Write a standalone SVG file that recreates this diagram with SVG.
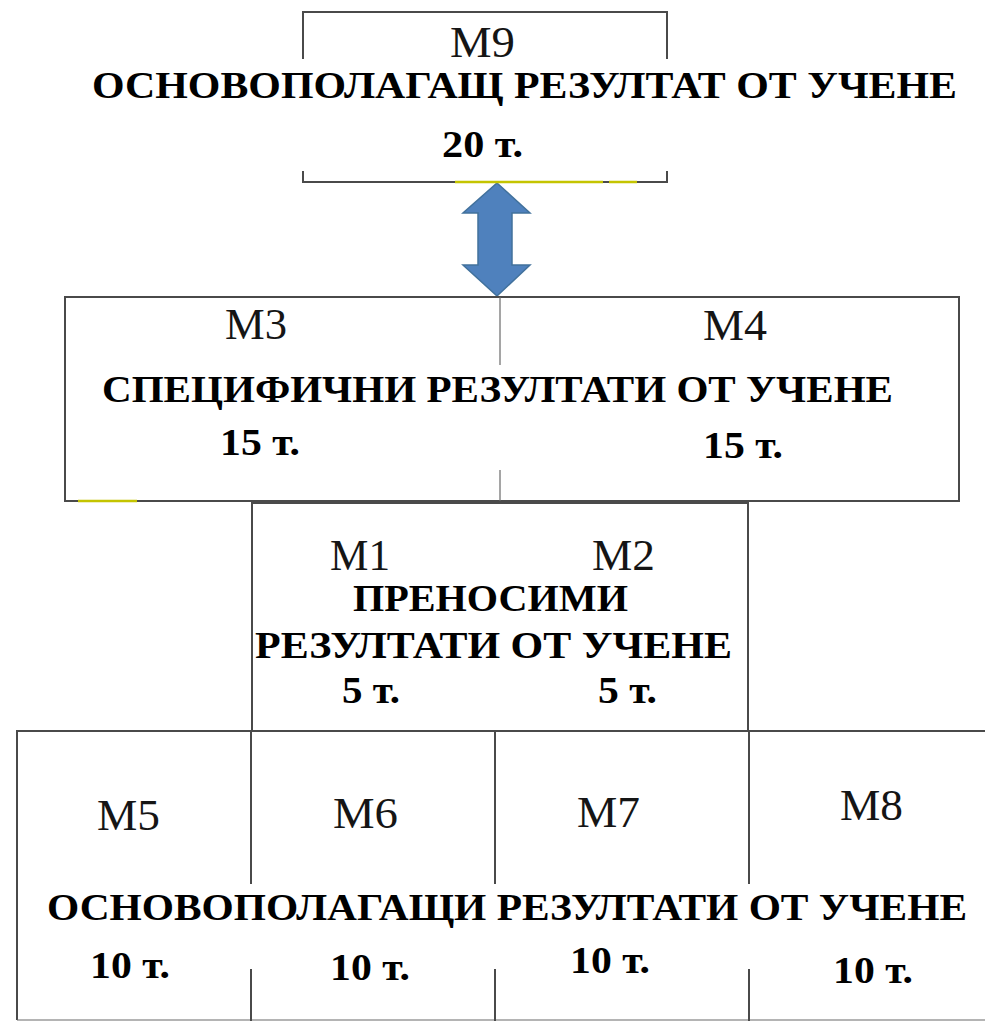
<svg xmlns="http://www.w3.org/2000/svg" width="985" height="1021" viewBox="0 0 985 1021">
  <style>
    .ln { stroke: #4a4a4a; stroke-width: 2; fill: none; stroke-linecap: square; }
    .thin { stroke: #6a6a6a; stroke-width: 1.2; fill: none; }
    .yl { stroke: #c4c400; stroke-width: 2.5; fill: none; }
    .m { font-family: "Liberation Serif", "DejaVu Serif", serif; font-size: 44px; fill: #151515; }
    .b { font-family: "Liberation Serif", "DejaVu Serif", serif; font-size: 38px; font-weight: bold; fill: #000; }
  </style>
  <rect width="985" height="1021" fill="#fff"/>

  <g id="connectors">
    <path id="double-arrow" d="M497,183 L530,213 L512,213 L512,265 L530,265 L497,296 L463,265 L478,265 L478,213 L463,213 Z" fill="#4f81bd" stroke="#41719c" stroke-width="1.5" stroke-linejoin="miter"/>
  </g>

  <g id="node-m9">
    <path class="ln" d="M303,58 L303,12 L667,12 L667,58"/>
    <path class="ln" d="M303,172 L303,182 L667,182 L667,172"/>
    <path class="yl" d="M455,182 L603,182 M609,182 L637,182"/>
    <text class="m" x="450" y="57" textLength="65" lengthAdjust="spacingAndGlyphs">M9</text>
    <text class="b" x="92" y="98" textLength="865" lengthAdjust="spacingAndGlyphs">ОСНОВОПОЛАГАЩ РЕЗУЛТАТ ОТ УЧЕНЕ</text>
    <text class="b" x="442" y="157" textLength="81" lengthAdjust="spacingAndGlyphs">20 т.</text>
  </g>

  <g id="node-m3-m4">
    <rect class="ln" x="65" y="297" width="894" height="204"/>
    <path class="yl" d="M78,501 L137,501"/>
    <path class="thin" d="M500,297 L500,365 M500,470 L500,501"/>
    <text class="m" x="225" y="339" textLength="62" lengthAdjust="spacingAndGlyphs">M3</text>
    <text class="m" x="703" y="340" textLength="64" lengthAdjust="spacingAndGlyphs">M4</text>
    <text class="b" x="102" y="402" textLength="791" lengthAdjust="spacingAndGlyphs">СПЕЦИФИЧНИ РЕЗУЛТАТИ ОТ УЧЕНЕ</text>
    <text class="b" x="220" y="455" textLength="80" lengthAdjust="spacingAndGlyphs">15 т.</text>
    <text class="b" x="703" y="458" textLength="80" lengthAdjust="spacingAndGlyphs">15 т.</text>
  </g>

  <g id="node-m1-m2">
    <path class="ln" d="M252,503 L748,503 L748,731 M252,503 L252,731"/>
    <text class="m" x="330" y="570" textLength="60" lengthAdjust="spacingAndGlyphs">M1</text>
    <text class="m" x="592" y="570" textLength="63" lengthAdjust="spacingAndGlyphs">M2</text>
    <text class="b" x="353" y="611" textLength="275" lengthAdjust="spacingAndGlyphs">ПРЕНОСИМИ</text>
    <text class="b" x="255" y="658" textLength="477" lengthAdjust="spacingAndGlyphs">РЕЗУЛТАТИ ОТ УЧЕНЕ</text>
    <text class="b" x="342" y="703" textLength="58" lengthAdjust="spacingAndGlyphs">5 т.</text>
    <text class="b" x="598" y="703" textLength="59" lengthAdjust="spacingAndGlyphs">5 т.</text>
  </g>

  <g id="node-m5-m8">
    <path class="ln" d="M17,731 L985,731 M17,731 L17,1019"/>
    <path class="thin" d="M17,1020 L985,1020"/>
    <path class="ln" d="M251,731 L251,883 M251,970 L251,1020"/>
    <path class="ln" d="M495,732 L495,883 M495,970 L495,1020"/>
    <path class="ln" d="M749,731 L749,883 M749,970 L749,1020"/>
    <text class="m" x="97" y="830" textLength="63" lengthAdjust="spacingAndGlyphs">M5</text>
    <text class="m" x="333" y="828" textLength="65" lengthAdjust="spacingAndGlyphs">M6</text>
    <text class="m" x="577" y="827" textLength="63" lengthAdjust="spacingAndGlyphs">M7</text>
    <text class="m" x="840" y="820" textLength="63" lengthAdjust="spacingAndGlyphs">M8</text>
    <text class="b" x="47" y="920" textLength="920" lengthAdjust="spacingAndGlyphs">ОСНОВОПОЛАГАЩИ РЕЗУЛТАТИ ОТ УЧЕНЕ</text>
    <text class="b" x="90" y="978" textLength="80" lengthAdjust="spacingAndGlyphs">10 т.</text>
    <text class="b" x="330" y="980" textLength="80" lengthAdjust="spacingAndGlyphs">10 т.</text>
    <text class="b" x="570" y="973" textLength="80" lengthAdjust="spacingAndGlyphs">10 т.</text>
    <text class="b" x="833" y="983" textLength="80" lengthAdjust="spacingAndGlyphs">10 т.</text>
  </g>
</svg>
